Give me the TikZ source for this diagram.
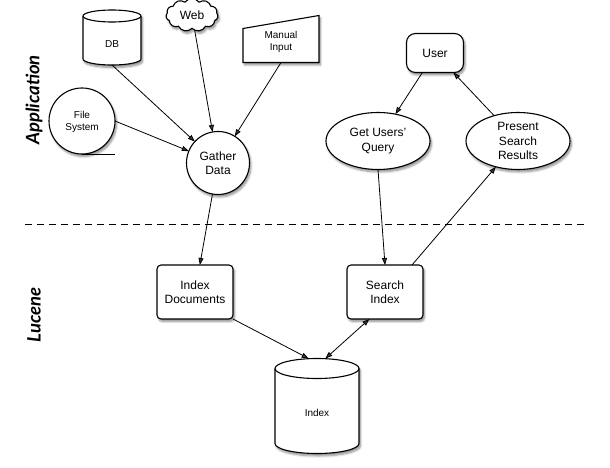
\documentclass[tikz,border=0pt]{standalone}
\usepackage{fontspec}
\setmainfont{Liberation Sans}
\newfontfamily\lblfont{Lato}
\usetikzlibrary{shapes.geometric,shapes.symbols,arrows.meta,shadows.blur,calc}
\begin{document}
\begin{tikzpicture}[x=1pt,y=-1pt,
  every node/.style={inner sep=0pt,outer sep=0pt},
  shad/.style={blur shadow={shadow xshift=1.5pt,shadow yshift=-2.5pt,shadow blur steps=6,shadow opacity=45}},
  bigtxt/.style={font=\fontsize{12}{14.3}\selectfont,align=center},
  smalltxt/.style={font=\fontsize{10}{12.5}\selectfont,align=center},
  shp/.style={draw,line width=1.1pt,fill=white,shad},
  conn/.style={line width=0.8pt,-{Triangle[length=7pt,width=5pt]}},
  side/.style={font=\lblfont\bfseries\itshape\fontsize{18.5}{18.5}\selectfont,rotate=90}]
\useasboundingbox (0,0) rectangle (610,468);
% DB cylinder
\node[minimum width=58pt,minimum height=55pt] (db) at (112,37.5) {};
\draw[shp] ($(db.north west)+(0,6)$) -- ($(db.south west)+(0,-6)$)
  arc[start angle=180,end angle=360,x radius=29pt,y radius=6pt]
  -- ($(db.north east)+(0,6)$)
  arc[start angle=0,end angle=180,x radius=29pt,y radius=6pt] -- cycle;
\draw[line width=1.1pt] ($(db.north west)+(0,6)$) arc[start angle=180,end angle=360,x radius=29pt,y radius=6pt];
\node[smalltxt] (dbl) at (112,44) {DB};
% Web cloud
\node[shp,cloud,cloud puffs=11,cloud puff arc=110,minimum width=52pt,minimum height=33pt,aspect=1.6] (web) at (192,15) {};
\node[bigtxt] at (192,15) {Web};
% Manual input
\node[minimum width=76pt,minimum height=47pt] (mi) at (281,39) {};
\draw[shp] (mi.south west) -- (mi.south east) -- (mi.north east) -- ($(mi.north west)+(0,13)$) -- cycle;
\node[smalltxt] at (281,42) {Manual\\Input};
% File system
\node[shp,circle,minimum size=66pt] (fs) at (82,121) {};
\draw[line width=0.8pt] (fs.south) -- ++(33,0);
\node[smalltxt] at (82,122) {File\\System};
% process nodes
\node[shp,circle,minimum size=63pt,bigtxt] (gd) at (218,163) {Gather\\Data};
\node[shp,rounded corners=9pt,minimum width=57pt,minimum height=39pt,bigtxt] (us) at (435,53) {User};
\node[shp,ellipse,minimum width=104pt,minimum height=57pt,bigtxt] (gq) at (378,141) {Get Users'\\Query};
\node[shp,ellipse,minimum width=104pt,minimum height=57pt,bigtxt] (pr) at (518,141) {Present\\Search\\Results};
\node[shp,rounded corners=4pt,minimum width=76pt,minimum height=54pt,bigtxt] (id) at (195,292) {Index\\Documents};
\node[shp,rounded corners=4pt,minimum width=76pt,minimum height=54pt,bigtxt] (si) at (385,292) {Search\\Index};
% Index cylinder
\node[minimum width=84pt,minimum height=95pt] (idx) at (317,406) {};
\draw[shp] ($(idx.north west)+(0,10)$) -- ($(idx.south west)+(0,-10)$)
  arc[start angle=180,end angle=360,x radius=42pt,y radius=10pt]
  -- ($(idx.north east)+(0,10)$)
  arc[start angle=0,end angle=180,x radius=42pt,y radius=10pt] -- cycle;
\draw[line width=1.1pt] ($(idx.north west)+(0,10)$) arc[start angle=180,end angle=360,x radius=42pt,y radius=10pt];
\node[smalltxt] at (317,413) {Index};
% side labels
\node[side] (app) at (34,100) {Application};
\node[side] (luc) at (34,315) {Lucene};
% separator
\coordinate (dl) at (25,224);
\coordinate (dr) at (588,224);
\draw[line width=0.8pt,dash pattern=on 7pt off 5pt] (dl) -- (dr);
% connectors
\draw[conn] (db.270) -- (gd);
\draw[conn] (web) -- (gd);
\draw[conn] (mi.south) -- (gd);
\draw[conn] (fs.east) -- (gd);
\draw[conn] (gd) -- (id);
\draw[conn] (id.south east) -- (idx.100);
\draw[line width=0.8pt,{Triangle[length=7pt,width=5pt]}-{Triangle[length=7pt,width=5pt]}] (si.-120) -- (idx.80);
\draw[conn] (gq.south) -- (si.north);
\draw[conn] (si.45) -- (pr);
\draw[conn] (us) -- (gq);
\draw[conn] (pr) -- (us);
\end{tikzpicture}
\end{document}
